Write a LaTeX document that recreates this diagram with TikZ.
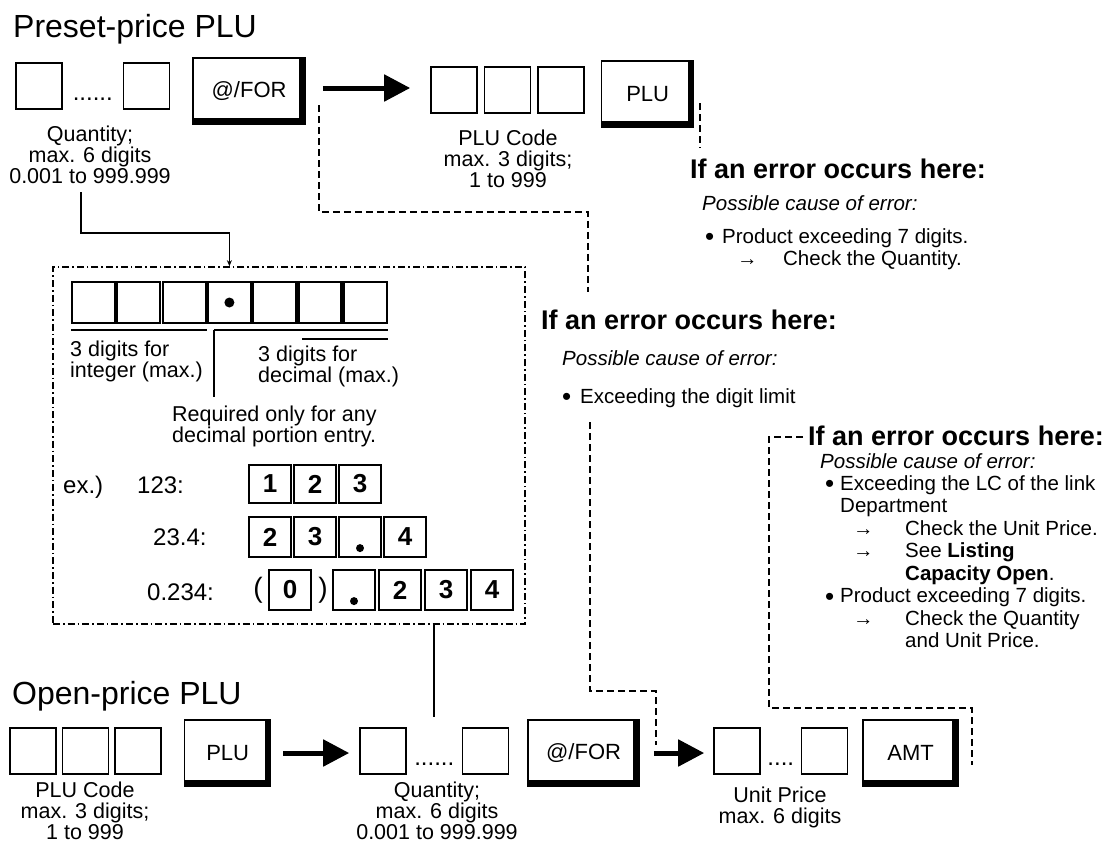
\documentclass[tikz,border=0pt]{standalone}
\usepackage{fontspec}
\setmainfont{Liberation Sans}
\usetikzlibrary{arrows.meta, positioning, calc}

\newcommand{\fTitle}{\fontsize{32}{34}\selectfont}
\newcommand{\fHead}{\fontsize{27}{29}\selectfont\bfseries}
\newcommand{\fBody}{\fontsize{21.5}{21}\selectfont}
\newcommand{\fKey}{\fontsize{22}{24}\selectfont}
\newcommand{\fErr}{\fontsize{20.5}{21}\selectfont}
\newcommand{\fList}{\fontsize{20.5}{22.5}\selectfont}
\newcommand{\fEx}{\fontsize{24}{26}\selectfont}
\newcommand{\fDigit}{\fontsize{26}{28}\selectfont\bfseries}
\newcommand{\errbullet}{\raisebox{-2.5pt}{\fontsize{26}{20}\selectfont\textbullet}}

\begin{document}
\begin{tikzpicture}[
  x=1pt, y=-1pt,
  cell/.style={draw, line width=1.6pt, minimum width=46pt, minimum height=46pt,
               inner sep=0pt},
  keybox/.style={draw, line width=1.4pt, minimum height=66pt, inner sep=0pt,
                 font=\fKey,
                 path picture={\draw[line width=12pt]
                   (path picture bounding box.north east) --
                   (path picture bounding box.south east) --
                   (path picture bounding box.south west);}},
  digit/.style={draw, line width=2.2pt, minimum width=42pt, minimum height=40pt,
                inner sep=0pt, font=\fDigit},
  lbl/.style={align=center, font=\fBody, inner sep=0pt, anchor=north},
  note/.style={align=left, font=\fBody, inner sep=0pt, anchor=north west},
  errtxt/.style={align=left, font=\fList, inner sep=0pt, anchor=north west},
  head/.style={font=\fHead, inner sep=0pt, anchor=base west},
  cause/.style={font=\fErr\itshape, inner sep=0pt, anchor=base west},
  plain/.style={font=\fEx, inner sep=0pt, anchor=base west},
  dots/.style={font=\fEx, inner sep=0pt, anchor=base},
  solidline/.style={line width=1.8pt},
  errline/.style={line width=1.8pt, dash pattern=on 7pt off 4pt},
  frameline/.style={line width=1.6pt, dash pattern=on 7pt off 3pt on 1.6pt off 3pt},
  bigarr/.style={line width=5pt, -{Triangle[length=26pt, width=26pt]}}
]
\useasboundingbox (0,0) rectangle (1111,844);

%% ── PRESET-PRICE PLU ─────────────────────────────────────────────────────────

\node[font=\fTitle, inner sep=0pt, anchor=base west] (ttop) at (13,37) {Preset-price PLU};

\node[cell] (q1) at (39,86) {};
\node[cell, right=60pt of q1] (q2) {};
\node[dots] (qdots) at ($(q1.east)!0.5!(q2.west)+(0,14)$) {......};
\node[keybox, minimum width=112pt, right=22pt of q2, yshift=-5pt] (for1) {@/FOR};

\node[cell] (pc1) at (454,90) {};
\node[cell, right=6pt of pc1] (pc2) {};
\node[cell, right=6pt of pc2] (pc3) {};
\node[keybox, minimum width=92pt, right=16pt of pc3, yshift=-4pt] (plu1) {PLU};

\node[lbl] (qtxt) at (90,126) {Quantity;\\max. 6 digits\\0.001 to 999.999};
\node[lbl] (pctxt) at (508,130) {PLU Code\\max. 3 digits;\\1 to 999};

\coordinate (a1s) at ($(for1.east)+(17,-3)$);
\draw[bigarr, shorten >=20pt] (a1s) -- (a1s -| pc1.west);

%% ── ERROR NOTES ──────────────────────────────────────────────────────────────

\node[head] (e1head) at (690,178) {If an error occurs here:};
\node[cause] (e1cause) at (702,210) {Possible cause of error:};
\node[errtxt] (e1list) at (705,228) {%
  \makebox[17pt][l]{\errbullet}Product exceeding 7 digits.\\
  \hspace*{32pt}\makebox[46pt][l]{→}Check the Quantity.};

\node[head] (e2head) at (541,329) {If an error occurs here:};
\node[cause] (e2cause) at (562,365) {Possible cause of error:};
\node[font=\fErr, inner sep=0pt, anchor=base west] (e2list) at (562,403)
  {\makebox[18pt][l]{\errbullet}Exceeding the digit limit};

\node[head] (e3head) at (808,445) {If an error occurs here:};
\node[cause] (e3cause) at (820,468) {Possible cause of error:};
\node[errtxt] (e3list) at (825,475) {%
  \makebox[15pt][l]{\errbullet}Exceeding the LC of the link\\
  \hspace*{15pt}Department\\
  \hspace*{28pt}\makebox[52pt][l]{→}Check the Unit Price.\\
  \hspace*{28pt}\makebox[52pt][l]{→}See \textbf{Listing}\\
  \hspace*{80pt}\textbf{Capacity Open}.\\
  \makebox[15pt][l]{\errbullet}Product exceeding 7 digits.\\
  \hspace*{28pt}\makebox[52pt][l]{→}Check the Quantity\\
  \hspace*{80pt}and Unit Price.};

%% ── QUANTITY FORMAT FRAME ────────────────────────────────────────────────────

\node[draw, frameline, minimum width=472pt, minimum height=357pt, inner sep=0pt]
  (frame) at (289,445.5) {};

\foreach \i in {0,...,6}
  \node[digit, minimum width=43pt, minimum height=41pt] (t\i) at (93.5+45.3*\i,302.5) {};
\fill (t3.center) circle (5pt);

\draw[line width=2.2pt] ($(t0.south west)+(0,6)$) -- ($(t2.south east)+(0,6)$);
\coordinate (reqtop) at ($(t3.south west)+(7,6)$);
\draw[line width=2.2pt] (reqtop) -- ($(t6.south east)+(0,6)$);
\draw[line width=2.2pt] ($(t5.south west)+(5,15)$) -- ($(t6.south east)+(0,15)$);

\node[note] (inttxt) at (70,341) {3 digits for\\integer (max.)};
\node[note] (dectxt) at (258,346) {3 digits for\\decimal (max.)};
\node[note] (reqtxt) at (172,406) {Required only for any\\decimal portion entry.};
\draw[solidline] (reqtop) -- ($(reqtop |- reqtxt.north)+(0,-9)$);

\node[plain] (exlbl) at (63,493) {ex.)};
\node[plain] (ex1) at (137,493) {123:};
\node[plain] (ex2) at (153,545) {23.4:};
\node[plain] (ex3) at (147,600) {0.234:};

\foreach \d [count=\k] in {1,2,3}
  \node[digit, minimum height=38pt] (ra\k) at (225+45*\k,484) {\d};
\foreach \d [count=\k] in {2,3,{},4}
  \node[digit] (rb\k) at (225+45*\k,537) {\d};
\fill ($(rb3.south)+(0,-10)$) circle (4pt);

\node[font=\fontsize{28}{30}\selectfont, inner sep=0pt] (lpar) at (258,590) {(};
\node[digit] (rc0) at (290,590) {0};
\node[font=\fontsize{28}{30}\selectfont, inner sep=0pt] (rpar) at (323,590) {)};
\foreach \d [count=\k] in {{},2,3,4}
  \node[digit] (rc\k) at (308+46*\k,590) {\d};
\fill ($(rc1.south)+(0,-10)$) circle (4pt);

%% ── OPEN-PRICE PLU ───────────────────────────────────────────────────────────

\node[font=\fTitle, inner sep=0pt, anchor=base west] (tbot) at (12,704) {Open-price PLU};

\node[cell] (lpc1) at (33,751) {};
\node[cell, right=5pt of lpc1] (lpc2) {};
\node[cell, right=5pt of lpc2] (lpc3) {};
\node[keybox, minimum width=86pt, right=22pt of lpc3, yshift=-2pt] (plu2) {PLU};

\node[cell] (lq1) at (383,751) {};
\node[cell, right=55pt of lq1] (lq2) {};
\node[dots] (lqdots) at ($(lq1.east)!0.5!(lq2.west)+(0,14)$) {......};
\node[keybox, minimum width=111pt, right=18pt of lq2, yshift=-2pt] (for2) {@/FOR};

\node[cell] (lu1) at (737,751) {};
\node[cell, right=40pt of lu1] (lu2) {};
\node[dots] (ludots) at ($(lu1.east)!0.5!(lu2.west)+(0,14)$) {....};
\node[keybox, minimum width=95pt, right=14pt of lu2, yshift=-2pt] (amt) {AMT};

\node[lbl] (lpctxt) at (85,782) {PLU Code\\max. 3 digits;\\1 to 999};
\node[lbl] (lqtxt) at (437,782) {Quantity;\\max. 6 digits\\0.001 to 999.999};
\node[lbl] (lutxt) at (780,787) {Unit Price\\max. 6 digits};

\coordinate (a2s) at ($(plu2.east)+(12,0)$);
\draw[bigarr, shorten >=10pt] (a2s) -- (a2s -| lq1.west);
\coordinate (a3s) at ($(for2.east)+(14,0)$);
\draw[bigarr, shorten >=9pt] (a3s) -- (a3s -| lu1.west);

%% ── CONNECTORS ───────────────────────────────────────────────────────────────

\coordinate (qdrop) at ($(qtxt.south)+(-9,8)$);
\draw[solidline, -{Stealth[length=6pt, width=5pt]}]
  (qdrop) |- ($(frame.north -| t3)+(0,-33)$) -- (frame.north -| t3);
\draw[solidline] (frame.south -| lqdots) -- ($(lqdots |- lq1.north)+(0,-10)$);

\coordinate (d1s) at ($(for1.east)+(13,14)$);
\coordinate (d1e) at ($(e2head.base west)+(47,-37)$);
\draw[errline] (d1s) |- ($(d1e)+(0,-80)$) -- (d1e);

\coordinate (e1top) at ($(e1head.base west)+(10,-30)$);
\draw[errline] ($(e1top |- plu1.east)+(0,9)$) -- (e1top);

\coordinate (d2s) at ($(e2list.base west)+(28,19)$);
\draw[errline] (d2s) |- ($(a3s)+(2,-62)$) -- ($(a3s)+(2,-8)$);

\coordinate (d3a) at ($(e3head.base west)+(-5,-8)$);
\coordinate (d3b) at ($(amt.east)+(13,-45)$);
\draw[errline] (d3a) -- ++(-34,0) |- (d3b) -- ($(amt.east)+(13,12)$);

\end{tikzpicture}
\end{document}
